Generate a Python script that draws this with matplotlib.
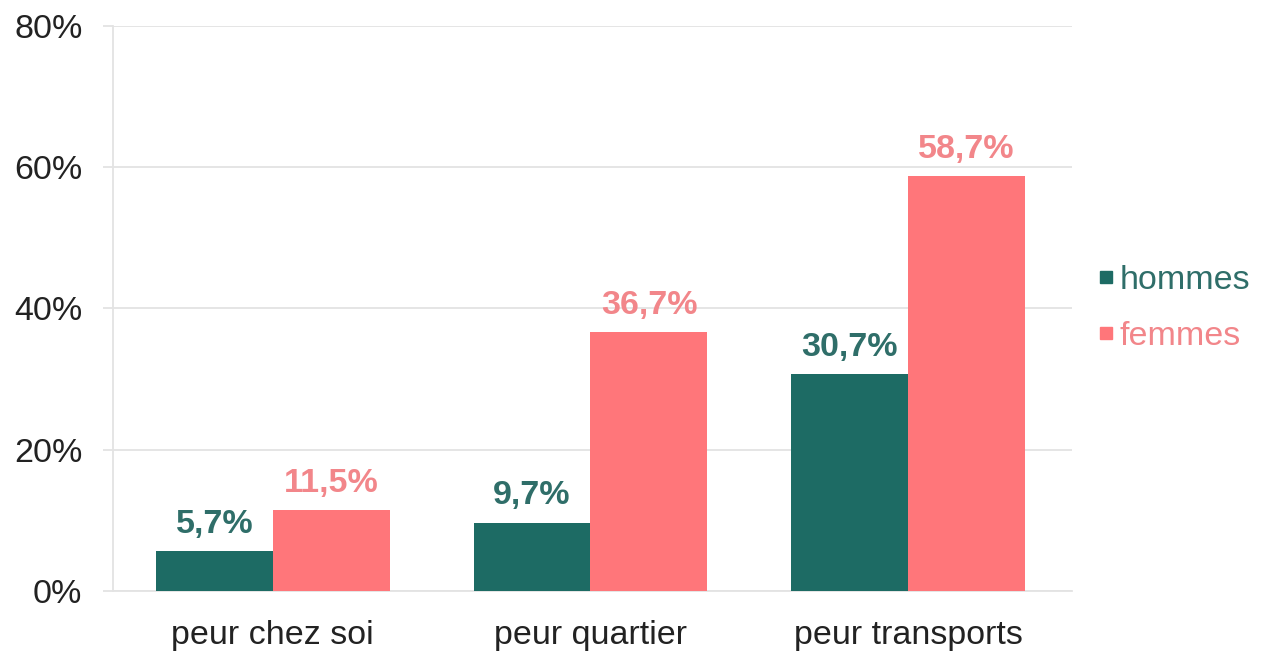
import matplotlib.pyplot as plt
import numpy as np
from matplotlib.ticker import FuncFormatter
from matplotlib.lines import Line2D

# data
categories = ['peur chez soi', 'peur quartier', 'peur transports']
hommes = [5.7, 9.7, 30.7]
femmes = [11.5, 36.7, 58.7]
series_names = ['hommes', 'femmes']

col_h = '#1d6b64'
col_f = '#ff767a'
txt_h = '#2f6e69'
txt_f = '#f2868a'

plt.rcParams['font.family'] = ['Liberation Sans', 'DejaVu Sans']

fig = plt.figure(figsize=(12.65, 6.54), dpi=100)
ax = fig.add_axes([0.0893, 0.0963, 0.758, 0.864])

x = np.arange(len(categories))
w = 0.368
b1 = ax.bar(x - w / 2, hommes, w, color=col_h, zorder=3)
b2 = ax.bar(x + w / 2, femmes, w, color=col_f, zorder=3)

# value labels above bars
for bars, vals, c in [(b1, hommes, txt_h), (b2, femmes, txt_f)]:
    for r, v in zip(bars, vals):
        ax.annotate(f'{v:.1f}%'.replace('.', ','),
                    (r.get_x() + r.get_width() / 2, v),
                    xytext=(0, 8), textcoords='offset points',
                    ha='center', va='bottom', fontsize=24.5, fontweight='bold', color=c)

ax.set_xlim(-0.503, 2.515)
ax.set_ylim(0, 80)
ax.set_yticks([0, 20, 40, 60, 80])
ax.yaxis.set_major_formatter(FuncFormatter(lambda v, p: f'{v:.0f}%'))
ax.set_xticks(x)
ax.set_xticklabels(categories)

ax.grid(axis='y', color='#e3e3e3', linewidth=1.3, zorder=0)
for s in ['top', 'right']:
    ax.spines[s].set_visible(False)
ax.spines['left'].set_color('#e3e3e3')
ax.spines['bottom'].set_color('#e3e3e3')
ax.spines['left'].set_linewidth(1.3)
ax.spines['bottom'].set_linewidth(1.3)
ax.tick_params(axis='y', length=7, color='#e3e3e3', width=1.3, labelsize=24.5, labelcolor='#222222', pad=15)
ax.tick_params(axis='x', length=0, labelsize=24.5, labelcolor='#222222', pad=21)

# square legend markers
handles = [Line2D([], [], linestyle='none', marker='s', markersize=8.5,
                  markerfacecolor=c, markeredgecolor=c) for c in [col_h, col_f]]
leg = ax.legend(handles, series_names, loc='center left', bbox_to_anchor=(0.997, 0.5),
                frameon=False, fontsize=24.5, handlelength=0.4, handletextpad=0.2,
                labelspacing=0.75)
for t, c in zip(leg.get_texts(), [txt_h, txt_f]):
    t.set_color(c)

fig.savefig('out.png', dpi=100, facecolor='white')
